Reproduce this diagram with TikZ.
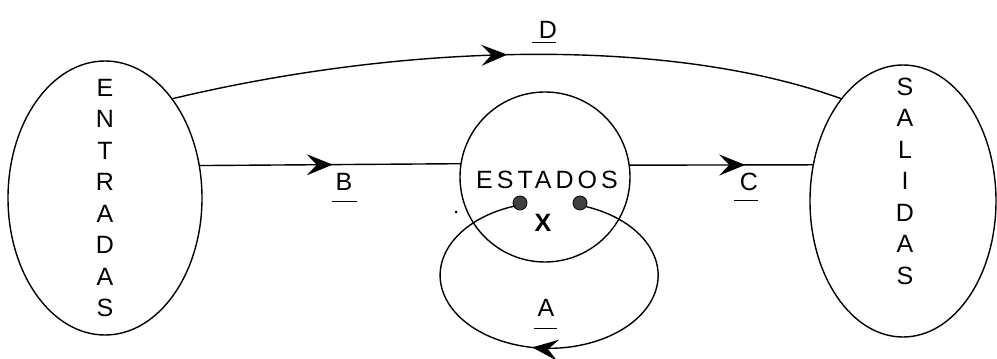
\documentclass[tikz,border=0pt]{standalone}
\usepackage{fontspec}
\setmainfont{Liberation Sans}
\usetikzlibrary{shapes.geometric,arrows.meta,decorations.markings}
\begin{document}
\begin{tikzpicture}[x=1pt,y=1pt,
  line width=1.4pt,
  dart/.tip={Stealth[length=26pt,width=21pt,inset=10pt]},
  bigell/.style={draw,ellipse,inner sep=0pt,outer sep=0pt},
  lbl/.style={font=\fontsize{25}{28}\selectfont,inner sep=0pt},
  vtext/.style={font=\fontsize{25}{31.5}\selectfont,align=center,inner sep=0pt},
  midarrow/.style={postaction={decorate},decoration={markings,mark=at position #1 with {\arrow{dart}}}},
  dotnode/.style={circle,draw,fill=black!75,minimum size=14pt,inner sep=0pt,line width=0.8pt},
  uline/.style={line width=1.2pt}]
\useasboundingbox (0,0) rectangle (997,359);
% main shapes
\node[bigell,minimum width=194pt,minimum height=274pt] (ent) at (105,161) {};
\node[bigell,minimum width=186pt,minimum height=272pt] (sal) at (903,158) {};
\node[draw,circle,minimum size=170pt,inner sep=0pt,outer sep=0pt] (est) at (545,182) {};
% texts
\node[vtext] (entt) at (105,161) {E\\N\\T\\R\\A\\D\\A\\S};
\node[vtext] (salt) at (905,178) {S\\A\\L\\I\\D\\A\\S};
\node[lbl] (estt) at (547,179) {\addfontfeature{LetterSpace=16}ESTADOS};
% dots and X
\node[dotnode] (ldot) at (520,156) {};
\node[dotnode] (rdot) at (580,156) {};
\node[inner sep=0pt,font=\fontsize{25}{26}\selectfont\bfseries] (xx) at (543,136) {X};
\node[circle,fill=black,inner sep=0pt,minimum size=3pt] (speck) at (456,147) {};
% connectors
\draw[midarrow=0.51] (ent.19.9) -- (est.171.2);
\draw[midarrow=0.63] (est.8.1) -- (sal.158.1);
\draw[midarrow=0.5] (ent.56) .. controls (423,320) and (680,319) .. (sal.121.9);
\draw[midarrow=0.53] (rdot.-30) arc[start angle=70,end angle=-252,x radius=109,y radius=73];
% labels
\node[lbl] (la) at (546,51) {A};
\node[lbl] (lb) at (344,177) {B};
\node[lbl] (lc) at (749,177) {C};
\node[lbl] (ld) at (548,329) {D};
\draw[uline] (la.south west) ++(-3,-11) -- ++(23,0);
\draw[uline] (lb.south west) ++(-2.5,-10) -- ++(25,0);
\draw[uline] (lc.south west) ++(-5,-9) -- ++(24,0);
\draw[uline] (ld.south west) ++(-6,-3) -- ++(24,0);
\end{tikzpicture}
\end{document}
